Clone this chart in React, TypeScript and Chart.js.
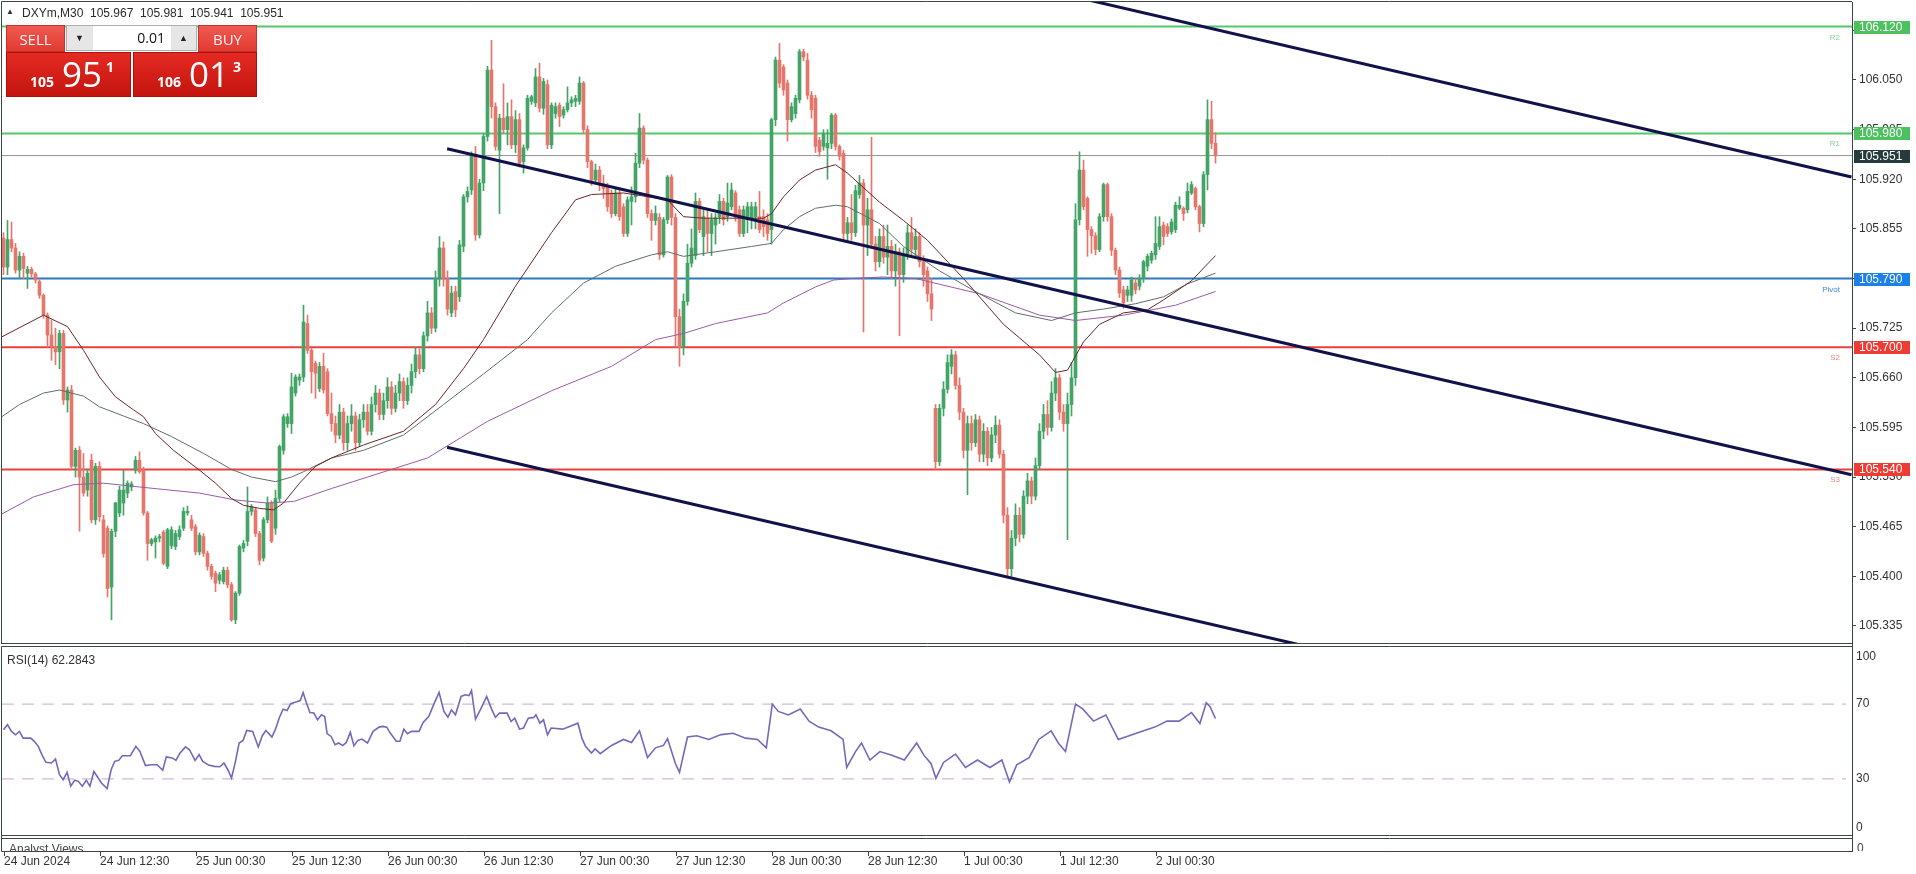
import React, { useEffect, useRef } from "react";
import { Chart, registerables } from "chart.js";

Chart.register(...registerables);

// ---------------- data ----------------
const SYMBOL = "DXYm,M30";
const LAST_BAR = [105.967, 105.981, 105.941, 105.951];
const SELL_PARTS = ["105", "95", "1"];
const BUY_PARTS = ["106", "01", "3"];
const LOT = "0.01";

// [open, high, low, close] per M30 bar
const OHLC: number[][] = [
  [105.843,105.850,105.795,105.805],[105.805,105.866,105.795,105.841],[105.841,105.864,105.825,105.830],[105.830,105.836,105.797,105.801],
  [105.801,105.825,105.790,105.819],[105.819,105.823,105.790,105.803],[105.797,105.806,105.777,105.802],[105.802,105.805,105.792,105.796],
  [105.796,105.798,105.784,105.788],[105.786,105.788,105.764,105.768],[105.768,105.770,105.738,105.742],[105.742,105.745,105.700,105.716],
  [105.716,105.735,105.683,105.701],[105.701,105.725,105.677,105.694],[105.694,105.722,105.672,105.718],[105.718,105.722,105.625,105.631],
  [105.631,105.648,105.615,105.644],[105.644,105.650,105.540,105.544],[105.544,105.568,105.530,105.565],[105.565,105.570,105.459,105.530],
  [105.530,105.561,105.505,105.509],[105.513,105.540,105.505,105.535],[105.552,105.560,105.470,105.474],[105.474,105.548,105.468,105.544],
  [105.544,105.550,105.472,105.478],[105.474,105.480,105.425,105.430],[105.463,105.466,105.373,105.384],[105.386,105.462,105.343,105.459],
  [105.459,105.497,105.452,105.496],[105.483,105.518,105.478,105.513],[105.496,105.539,105.480,105.513],[105.509,105.525,105.503,105.522],
  [105.517,105.524,105.512,105.521],[105.539,105.557,105.535,105.552],[105.552,105.563,105.535,105.537],[105.539,105.543,105.480,105.483],
  [105.483,105.485,105.421,105.443],[105.443,105.450,105.440,105.448],[105.445,105.453,105.424,105.450],[105.450,105.455,105.445,105.452],
  [105.458,105.460,105.415,105.417],[105.413,105.463,105.410,105.461],[105.440,105.465,105.436,105.461],[105.439,105.460,105.435,105.456],
  [105.452,105.466,105.448,105.461],[105.463,105.490,105.460,105.485],[105.483,105.492,105.480,105.485],[105.474,105.480,105.460,105.463],
  [105.465,105.468,105.428,105.432],[105.432,105.457,105.428,105.454],[105.452,105.456,105.426,105.430],[105.430,105.433,105.408,105.413],
  [105.413,105.416,105.396,105.400],[105.404,105.407,105.380,105.391],[105.395,105.405,105.390,105.402],[105.393,105.412,105.390,105.408],
  [105.408,105.412,105.385,105.389],[105.389,105.392,105.341,105.343],[105.343,105.380,105.338,105.378],[105.378,105.441,105.375,105.439],
  [105.437,105.447,105.432,105.443],[105.446,105.517,105.440,105.485],[105.485,105.494,105.480,105.491],[105.487,105.490,105.452,105.456],
  [105.456,105.459,105.415,105.421],[105.424,105.477,105.420,105.474],[105.474,105.504,105.470,105.496],[105.496,105.499,105.444,105.446],
  [105.463,105.513,105.455,105.502],[105.502,105.572,105.498,105.570],[105.565,105.612,105.560,105.609],[105.600,105.613,105.595,105.609],
  [105.600,105.666,105.587,105.648],[105.640,105.664,105.636,105.661],[105.657,105.665,105.650,105.661],[105.661,105.755,105.655,105.733],
  [105.731,105.742,105.692,105.696],[105.696,105.699,105.640,105.668],[105.679,105.682,105.633,105.666],[105.646,105.680,105.642,105.675],
  [105.675,105.692,105.640,105.644],[105.668,105.672,105.610,105.613],[105.613,105.640,105.590,105.600],[105.600,105.610,105.575,105.585],
  [105.585,105.625,105.580,105.615],[105.615,105.620,105.565,105.575],[105.575,105.610,105.565,105.600],[105.600,105.625,105.590,105.610],
  [105.610,105.615,105.565,105.575],[105.575,105.612,105.570,105.605],[105.605,105.625,105.595,105.615],[105.615,105.625,105.585,105.590],
  [105.590,105.635,105.585,105.625],[105.625,105.650,105.615,105.640],[105.640,105.645,105.605,105.612],[105.612,105.640,105.605,105.630],
  [105.630,105.660,105.620,105.648],[105.648,105.655,105.612,105.620],[105.620,105.650,105.615,105.640],[105.640,105.665,105.630,105.655],
  [105.655,105.660,105.620,105.630],[105.630,105.660,105.625,105.650],[105.650,105.678,105.640,105.668],[105.668,105.700,105.660,105.690],
  [105.690,105.698,105.665,105.672],[105.672,105.720,105.668,105.715],[105.715,105.760,105.708,105.745],[105.745,105.752,105.718,105.725],
  [105.725,105.800,105.720,105.790],[105.790,105.845,105.780,105.830],[105.830,105.838,105.780,105.790],[105.790,105.800,105.742,105.750],
  [105.745,105.780,105.740,105.771],[105.773,105.780,105.740,105.749],[105.766,105.840,105.760,105.834],[105.832,105.900,105.825,105.897],
  [105.897,105.910,105.890,105.904],[105.906,105.956,105.900,105.952],[105.952,105.963,105.840,105.847],[105.847,105.920,105.843,105.915],
  [105.915,105.980,105.905,105.976],[105.976,106.068,105.970,106.063],[106.063,106.102,106.000,106.015],[106.015,106.020,105.958,105.963],
  [105.958,106.005,105.875,106.000],[106.000,106.045,105.980,105.985],[105.985,106.020,105.965,106.002],[106.002,106.024,105.960,105.965],
  [105.965,106.010,105.955,105.998],[105.998,106.006,105.936,105.941],[105.943,105.965,105.928,105.961],[105.961,106.030,105.958,106.026],
  [106.022,106.030,106.018,106.028],[106.020,106.065,106.015,106.054],[106.054,106.072,106.008,106.013],[106.013,106.052,106.005,106.048],
  [106.044,106.050,105.960,105.965],[105.965,106.020,105.960,106.017],[106.006,106.020,106.000,106.015],[106.017,106.020,105.989,106.002],
  [106.004,106.015,106.000,106.011],[106.011,106.041,106.008,106.020],[106.020,106.028,106.015,106.024],[106.022,106.030,106.015,106.026],
  [106.022,106.054,106.018,106.046],[106.046,106.048,105.980,105.985],[105.985,105.990,105.935,105.943],[105.943,105.945,105.912,105.919],
  [105.919,105.940,105.915,105.932],[105.932,105.937,105.905,105.914],[105.914,105.925,105.895,105.908],[105.910,105.915,105.878,105.884],
  [105.902,105.906,105.870,105.875],[105.875,105.908,105.872,105.902],[105.902,105.906,105.866,105.871],[105.884,105.888,105.845,105.849],
  [105.849,105.897,105.845,105.893],[105.891,105.910,105.860,105.897],[105.897,105.954,105.890,105.941],[105.941,106.006,105.935,105.987],
  [105.987,105.990,105.940,105.945],[105.945,105.948,105.870,105.875],[105.875,105.880,105.840,105.866],[105.866,105.885,105.860,105.875],
  [105.870,105.875,105.815,105.821],[105.821,105.870,105.818,105.867],[105.867,105.925,105.862,105.923],[105.923,105.926,105.860,105.870],
  [105.870,105.875,105.700,105.740],[105.740,105.750,105.675,105.700],[105.700,105.770,105.690,105.760],[105.760,105.835,105.755,105.810],
  [105.810,105.855,105.805,105.830],[105.820,105.902,105.815,105.891],[105.891,105.895,105.850,105.854],[105.845,105.880,105.820,105.871],
  [105.869,105.880,105.825,105.849],[105.849,105.875,105.820,105.867],[105.860,105.875,105.835,105.869],[105.871,105.900,105.862,105.891],
  [105.891,105.895,105.860,105.867],[105.871,105.915,105.865,105.889],[105.884,105.915,105.880,105.906],[105.902,105.905,105.865,105.871],
  [105.880,105.885,105.845,105.849],[105.849,105.885,105.845,105.880],[105.867,105.890,105.850,105.884],[105.867,105.890,105.855,105.884],
  [105.871,105.890,105.855,105.884],[105.871,105.904,105.850,105.854],[105.871,105.880,105.845,105.858],[105.867,105.875,105.840,105.849],
  [105.854,106.000,105.835,105.998],[105.998,106.080,105.990,106.076],[106.076,106.098,106.040,106.046],[106.067,106.070,106.030,106.037],
  [106.046,106.050,105.970,105.998],[105.998,106.020,105.995,106.015],[106.006,106.030,106.000,106.026],[106.024,106.090,106.020,106.087],
  [106.087,106.090,106.075,106.080],[106.076,106.085,106.025,106.030],[106.030,106.035,106.000,106.011],[106.026,106.030,105.955,105.963],
  [105.971,105.975,105.950,105.956],[105.963,105.985,105.958,105.980],[105.961,105.985,105.920,105.967],[105.967,106.006,105.960,106.004],
  [106.004,106.006,105.958,105.963],[105.963,105.965,105.945,105.950],[105.954,105.958,105.840,105.849],[105.849,105.870,105.840,105.863],
  [105.863,105.900,105.840,105.850],[105.850,105.912,105.845,105.905],[105.900,105.925,105.895,105.915],[105.915,105.920,105.720,105.860],
  [105.860,105.895,105.820,105.880],[105.880,105.975,105.830,105.835],[105.835,105.845,105.800,105.812],[105.812,105.855,105.805,105.845],
  [105.845,105.860,105.810,105.818],[105.818,105.860,105.795,105.832],[105.832,105.840,105.790,105.800],[105.800,105.835,105.780,105.825],
  [105.825,105.830,105.715,105.795],[105.795,105.830,105.785,105.822],[105.822,105.860,105.815,105.850],[105.850,105.870,105.820,105.828],
  [105.828,105.855,105.820,105.845],[105.845,105.850,105.805,105.812],[105.812,105.820,105.780,105.795],[105.800,105.805,105.760,105.770],
  [105.770,105.790,105.735,105.750],[105.620,105.625,105.540,105.550],[105.550,105.625,105.545,105.620],[105.620,105.655,105.610,105.645],
  [105.645,105.690,105.640,105.680],[105.675,105.697,105.665,105.690],[105.690,105.695,105.645,105.650],[105.650,105.660,105.605,105.615],
  [105.615,105.620,105.555,105.565],[105.565,105.610,105.507,105.600],[105.600,105.610,105.565,105.575],[105.575,105.612,105.570,105.605],
  [105.605,105.610,105.550,105.560],[105.560,105.600,105.550,105.590],[105.590,105.595,105.545,105.555],[105.555,105.595,105.550,105.585],
  [105.585,105.610,105.575,105.598],[105.598,105.605,105.555,105.560],[105.560,105.565,105.470,105.480],[105.480,105.490,105.398,105.410],
  [105.410,105.460,105.400,105.450],[105.450,105.495,105.440,105.480],[105.480,105.490,105.445,105.455],[105.455,105.512,105.450,105.505],
  [105.505,105.535,105.495,105.525],[105.525,105.530,105.495,105.505],[105.505,105.555,105.500,105.545],[105.545,105.600,105.540,105.590],
  [105.590,105.625,105.580,105.612],[105.612,105.630,105.585,105.595],[105.595,105.655,105.590,105.640],[105.640,105.672,105.630,105.660],
  [105.660,105.665,105.605,105.615],[105.615,105.625,105.590,105.600],[105.600,105.640,105.448,105.625],[105.625,105.680,105.610,105.660],
  [105.660,105.888,105.650,105.867],[105.867,105.956,105.860,105.932],[105.932,105.945,105.880,105.884],[105.895,105.897,105.819,105.854],
  [105.854,105.858,105.823,105.846],[105.846,105.850,105.821,105.828],[105.828,105.875,105.825,105.871],[105.871,105.915,105.865,105.913],
  [105.913,105.915,105.865,105.871],[105.871,105.875,105.820,105.827],[105.827,105.830,105.795,105.801],[105.801,105.805,105.765,105.771],
  [105.775,105.780,105.751,105.758],[105.768,105.780,105.760,105.775],[105.768,105.792,105.760,105.788],[105.784,105.790,105.770,105.775],
  [105.780,105.795,105.775,105.790],[105.790,105.814,105.785,105.812],[105.806,105.822,105.800,105.819],[105.814,105.826,105.810,105.823],
  [105.821,105.871,105.815,105.836],[105.832,105.871,105.828,105.858],[105.860,105.864,105.834,105.845],[105.858,105.862,105.845,105.849],
  [105.851,105.868,105.848,105.864],[105.854,105.890,105.850,105.886],[105.882,105.897,105.880,105.886],[105.882,105.884,105.866,105.875],
  [105.880,105.915,105.876,105.904],[105.902,105.917,105.900,105.913],[105.908,105.910,105.880,105.884],[105.884,105.886,105.851,105.862],
  [105.862,105.930,105.858,105.926],[105.926,106.024,105.906,105.998],[105.998,106.022,105.960,105.967],[105.967,105.981,105.941,105.951],
];

// moving averages read at sample bars: [bar, price]
const MA_FAST: number[][] = [
  [-1,105.712],[10,105.742],[16,105.727],[20,105.696],[24,105.661],[28,105.635],[32.5,105.618],[35,105.609],[38,105.587],[42.5,105.565],
  [49,105.539],[53,105.522],[57,105.502],[60,105.493],[64,105.489],[67.5,105.487],[70,105.496],[74,105.522],[78,105.544],[82,105.555],
  [90,105.572],[100,105.590],[108,105.625],[115,105.672],[120,105.710],[128,105.780],[137,105.850],[143,105.893],[147,105.900],[155,105.902],
  [160,105.898],[166,105.893],[170,105.871],[175,105.869],[190,105.869],[192,105.875],[195,105.897],[199,105.919],[203,105.932],[208,105.939],
  [211,105.928],[219,105.890],[225,105.866],[231,105.840],[240,105.790],[250,105.730],[259,105.690],[263,105.667],[266,105.670],[270,105.707],
  [274,105.730],[280,105.745],[286,105.749],[290,105.762],[297,105.787],[303,105.820],
];
const MA_MID: number[][] = [
  [-1,105.607],[4,105.625],[10,105.640],[14,105.644],[20,105.636],[24,105.622],[30,105.610],[35,105.600],[42,105.583],[50,105.561],
  [57,105.540],[62,105.530],[68,105.524],[72,105.530],[75,105.537],[82,105.555],[90,105.565],[100,105.585],[110,105.625],[120,105.665],
  [131,105.710],[137,105.745],[145,105.784],[153,105.806],[162,105.821],[166,105.825],[170,105.819],[178,105.825],[187,105.832],[192,105.836],
  [195,105.854],[199,105.871],[203,105.882],[208,105.886],[211,105.884],[219,105.862],[225,105.832],[234,105.800],[244,105.770],[253,105.745],
  [262,105.735],[268,105.745],[275,105.750],[283,105.757],[290,105.766],[296,105.783],[303,105.797],
];
const MA_SLOW: number[][] = [
  [-1,105.480],[7.5,105.504],[17.5,105.520],[25,105.522],[34,105.517],[49,105.509],[58,105.500],[66,105.496],[72.5,105.498],[82,105.515],
  [91,105.530],[106,105.555],[121,105.603],[137,105.643],[152,105.675],[163,105.710],[170,105.718],[178,105.731],[191,105.745],[195,105.758],
  [203,105.779],[207.5,105.788],[212,105.790],[220,105.792],[228,105.790],[244,105.770],[259,105.742],[268,105.735],[280,105.742],[293,105.755],
  [303,105.773],
];

// RSI(14) read at sample bars: [bar, value]
const RSI_POINTS: number[][] = [
  [0,56.3],[1,59.0],[2,55.4],[3,53.6],[4,55.4],[4.9,51.8],[6.8,51.8],[7.7,50.1],[8.7,47.4],[9.6,43.0],[10.6,38.9],[12,38.5],[13,40.6],
  [14,32.3],[14.9,29.6],[15.9,33.5],[16.8,26.1],[17.8,29.3],[18.7,28.7],[19.7,26.1],[20.7,29.3],[21.6,26.1],[22.6,34.0],[23.5,31.0],
  [24.5,27.8],[25.9,24.8],[26.9,34.9],[27.8,39.4],[28.8,39.9],[29.7,42.4],[31.7,42.4],[33.1,47.4],[34.1,44.7],[35.5,37.1],[36.9,37.6],
  [38.4,37.6],[39.8,34.6],[40.7,41.7],[42.2,41.2],[43.1,39.9],[44.1,43.8],[45.5,47.1],[46.5,45.6],[47.9,39.9],[48.9,43.0],[49.8,39.4],
  [51.3,37.4],[52.7,36.7],[54.1,36.5],[55.1,38.5],[56.1,34.9],[57,30.5],[58,39.4],[58.9,49.2],[59.9,50.6],[60.8,55.9],[62.3,55.4],
  [63.7,47.1],[64.7,53.1],[65.6,55.9],[67.1,52.4],[68,56.6],[69,63.0],[69.9,67.3],[70.9,66.6],[71.8,70.2],[73.3,71.2],[74.2,71.9],
  [74.9,76.2],[75.7,70.9],[76.6,65.5],[77.6,65.2],[78.5,61.6],[79.5,64.3],[80.3,63.4],[80.9,54.2],[81.9,52.7],[82.9,48.3],[83.8,49.2],
  [84.8,47.8],[85.7,49.5],[86.7,54.9],[87.6,47.8],[88.6,50.6],[89.6,51.3],[91,49.2],[92.4,55.4],[93.9,57.7],[94.8,58.1],[95.8,57.7],
  [96.7,54.5],[98.2,50.1],[99.1,50.1],[100.1,56.6],[101,54.2],[102,55.4],[103.9,55.4],[104.9,60.2],[106.3,63.4],[107.7,70.5],[108.9,76.2],
  [110.1,66.1],[111.1,63.0],[112,66.9],[113,64.3],[114.4,74.1],[115.4,75.0],[116.4,74.6],[117,77.3],[118,62.0],[119.2,66.9],[120.8,74.1],
  [122.1,66.9],[123,62.9],[124,65.2],[125.9,65.2],[126.9,60.7],[127.8,62.5],[129,56.6],[130,57.2],[131.2,62.5],[132.6,62.9],[133.1,64.3],
  [134.1,59.8],[135,61.6],[136,53.6],[136.9,57.2],[139.8,56.6],[141.7,58.1],[143.6,59.8],[144.6,51.8],[145.5,47.4],[147,43.8],[147.9,46.0],
  [149.2,43.5],[152,47.9],[155,51.1],[157,49.5],[159,55.7],[161,41.4],[163,46.6],[165,47.9],[166,51.5],[168,38.1],[169,33.5],[171,52.4],
  [173.3,53.1],[176.3,51.1],[179.4,53.7],[182.4,54.4],[185.5,51.8],[188.5,51.1],[190.7,46.6],[192.2,70.0],[193.7,66.1],[196.2,64.2],
  [199.2,67.4],[201.4,60.9],[203.8,57.7],[206.9,55.7],[209.9,51.1],[210.8,36.1],[213,44.6],[214.5,49.2],[216.6,40.1],[219.1,44.6],
  [222.1,42.7],[225.2,40.1],[228.3,49.2],[230.1,42.7],[231.9,38.1],[233.1,30.3],[235,38.8],[238,43.3],[240.5,36.1],[243.5,40.1],
  [246.6,36.1],[249.6,40.1],[251.5,28.3],[253.3,37.5],[256.4,41.4],[258.8,51.1],[261.9,55.7],[263.7,49.2],[265.5,44.6],[268,70.0],
  [269.8,67.4],[272.5,60.9],[275.6,64.2],[278.7,51.1],[283.2,54.4],[287.8,57.7],[290.9,60.9],[293.9,60.9],[297,65.5],[299.1,59.6],
  [300.7,70.7],[301.6,68.7],[303,62.2843],
];
const RSI_LAST = 62.2843;
const RSI_LEVELS = [70, 30];
const RSI_AXIS_LABELS = [100, 70, 30, 0];

// trend lines: [[bar, price], [bar, price]]
const TREND_LINES: number[][][] = [
  [[250, 106.1805], [462, 105.923]],
  [[110.9, 105.960], [462, 105.533]],
  [[110.9, 105.569], [340, 105.291]],
];

const LEVEL_PRICES = [106.12, 105.98, 105.79, 105.7, 105.54];
const LEVEL_NAMES = ["R2", "R1", "Pivot", "S2", "S3"];
const BID = 105.951;

const PRICE_TICKS = [105.335, 105.4, 105.465, 105.53, 105.595, 105.66, 105.725, 105.79, 105.855, 105.92, 105.985, 106.05, 106.115];
const PRICE_MIN = 105.3127;
const PRICE_MAX = 106.1521;
const X_MIN = -0.375;
const X_MAX = 462.125;

const TIME_LABEL_BARS = [0, 24, 48, 72, 96, 120, 144, 168, 192, 216, 240, 264, 288];
const TIME_LABELS = ["24 Jun 2024", "24 Jun 12:30", "25 Jun 00:30", "25 Jun 12:30", "26 Jun 00:30", "26 Jun 12:30", "27 Jun 00:30",
  "27 Jun 12:30", "28 Jun 00:30", "28 Jun 12:30", "1 Jul 00:30", "1 Jul 12:30", "2 Jul 00:30"];

// ---------------- styles ----------------
const FONT = '"Liberation Sans", Arial, sans-serif';
const BULL = "#44a367";
const BEAR = "#e5766b";
const FRAME = "#3b4548";
const LEVEL_LINE_COLORS = ["#55c768", "#55c768", "#2c79bd", "#e8403a", "#e8403a"];
const LEVEL_BOX_COLORS = ["#4cc25e", "#4cc25e", "#1b80e8", "#ee3b33", "#ee3b33"];
const LEVEL_TAG_COLORS = ["#86d294", "#86d294", "#3f86cf", "#e38a84", "#e38a84"];
const BID_BOX = "#263b3e";
const MA_COLORS = ["#6b2626", "#5e6e6a", "#9a5aa6"];
const TREND_COLOR = "#12124a";
const RSI_COLOR = "#7867b8";
const RSI_LEVEL_COLOR = "#c8a9cf";

function yAxisFit(width: number) {
  return (s: any) => {
    s.width = width;
    s.paddingTop = 0;
    s.paddingBottom = 0;
    s.paddingLeft = 0;
    s.paddingRight = 0;
  };
}

const mainDecor = {
  id: "mainDecor",
  afterDraw(chart: any) {
    const { ctx, chartArea: a, scales } = chart;
    const y = scales.y;
    ctx.save();
    ctx.strokeStyle = FRAME;
    ctx.lineWidth = 1;
    ctx.beginPath();
    ctx.moveTo(1.5, 1.5); ctx.lineTo(a.right, 1.5);
    ctx.moveTo(1.5, 1.5); ctx.lineTo(1.5, 644);
    ctx.moveTo(1.5, 643.5); ctx.lineTo(a.right + 1, 643.5);
    ctx.stroke();

    ctx.textBaseline = "middle";
    LEVEL_PRICES.forEach((p, k) => {
      const py = Math.round(y.getPixelForValue(p));
      ctx.font = "8px " + FONT;
      ctx.textAlign = "right";
      ctx.fillStyle = LEVEL_TAG_COLORS[k];
      ctx.fillText(LEVEL_NAMES[k], a.right - 12, py + 11);
      ctx.fillStyle = LEVEL_BOX_COLORS[k];
      ctx.fillRect(a.right + 2, py - 6, 56, 13);
      ctx.font = "12px " + FONT;
      ctx.textAlign = "left";
      ctx.fillStyle = "#ffffff";
      ctx.fillText(p.toFixed(3), a.right + 7, py + 1);
    });
    const by = Math.round(y.getPixelForValue(BID));
    ctx.fillStyle = BID_BOX;
    ctx.fillRect(a.right + 2, by - 6, 56, 13);
    ctx.fillStyle = "#ffffff";
    ctx.font = "12px " + FONT;
    ctx.textAlign = "left";
    ctx.fillText(BID.toFixed(3), a.right + 7, by + 1);
    ctx.restore();
  },
};

const rsiDecor = {
  id: "rsiDecor",
  afterDraw(chart: any) {
    const { ctx, chartArea: a, scales } = chart;
    const x = scales.x;
    const y = scales.y;
    ctx.save();
    ctx.strokeStyle = FRAME;
    ctx.lineWidth = 1;
    ctx.beginPath();
    ctx.moveTo(1.5, 2.5); ctx.lineTo(a.right, 2.5);
    ctx.moveTo(1.5, 2.5); ctx.lineTo(1.5, 207.5);
    ctx.moveTo(1.5, 191.5); ctx.lineTo(a.right, 191.5);
    ctx.moveTo(1.5, 194.5); ctx.lineTo(a.right, 194.5);
    ctx.moveTo(1.5, 207.5); ctx.lineTo(a.right + 1, 207.5);
    ctx.moveTo(a.right + 0.5, 0); ctx.lineTo(a.right + 0.5, 208);
    ctx.stroke();

    ctx.fillStyle = "#333";
    ctx.font = "12px " + FONT;
    ctx.textBaseline = "middle";
    ctx.textAlign = "left";
    RSI_AXIS_LABELS.forEach((v) => {
      let py = y.getPixelForValue(v);
      py = Math.min(Math.max(py, a.top + 9), a.bottom - 7);
      ctx.fillText(String(v), a.right + 4, py);
    });
    ctx.fillText("RSI(14) " + RSI_LAST.toFixed(4), 7, a.top + 13);

    ctx.save();
    ctx.beginPath();
    ctx.rect(2, 195, a.right + 60, 12);
    ctx.clip();
    ctx.fillStyle = "#444";
    ctx.fillText("Analyst Views", 9, 205.5);
    ctx.fillText("0", a.right + 5, 204.5);
    ctx.restore();

    ctx.strokeStyle = FRAME;
    ctx.beginPath();
    TIME_LABEL_BARS.forEach((b) => {
      const px = Math.round(x.getPixelForValue(b)) + 0.5;
      ctx.moveTo(px, 208); ctx.lineTo(px, 212);
    });
    ctx.stroke();
    ctx.fillStyle = "#333";
    TIME_LABEL_BARS.forEach((b, k) => {
      const px = Math.round(x.getPixelForValue(b));
      ctx.fillText(TIME_LABELS[k], px, 218);
    });
    ctx.restore();
  },
};

function lineSet(points: number[][], color: string, width: number, order: number, dash?: number[]) {
  return {
    type: "line",
    data: points.map((p) => ({ x: p[0], y: p[1] })),
    borderColor: color,
    borderWidth: width,
    borderDash: dash || [],
    pointRadius: 0,
    tension: 0,
    fill: false,
    order,
  };
}

function mainConfig(): any {
  const colors = OHLC.map((c) => (c[3] >= c[0] ? BULL : BEAR));
  const datasets: any[] = [];
  LEVEL_PRICES.forEach((p, k) => {
    datasets.push(lineSet([[X_MIN, p], [X_MAX, p]], LEVEL_LINE_COLORS[k], 2, 20));
  });
  datasets.push(lineSet([[X_MIN, BID], [X_MAX, BID]], "#929292", 1, 19));
  datasets.push({
    type: "bar",
    data: OHLC.map((c, i) => ({ x: i, y: [c[2], c[1]] })),
    backgroundColor: colors,
    barThickness: 1,
    grouped: false,
    minBarLength: 1,
    order: 10,
  });
  datasets.push({
    type: "bar",
    data: OHLC.map((c, i) => ({ x: i, y: [c[0], c[3]] })),
    backgroundColor: colors,
    barThickness: 3,
    grouped: false,
    minBarLength: 1,
    order: 9,
  });
  datasets.push(lineSet(MA_SLOW, MA_COLORS[2], 1, 5));
  datasets.push(lineSet(MA_MID, MA_COLORS[1], 1, 4));
  datasets.push(lineSet(MA_FAST, MA_COLORS[0], 1, 3));
  TREND_LINES.forEach((t) => datasets.push(lineSet(t, TREND_COLOR, 3, 1)));

  return {
    type: "bar",
    data: { datasets },
    options: {
      animation: false,
      responsive: false,
      devicePixelRatio: 1,
      events: [],
      layout: { padding: { left: 2, top: 2, bottom: 1, right: 0 } },
      plugins: { legend: { display: false }, tooltip: { enabled: false } },
      scales: {
        x: { type: "linear", min: X_MIN, max: X_MAX, display: false, offset: false, grid: { offset: false } },
        y: {
          type: "linear",
          position: "right",
          min: PRICE_MIN,
          max: PRICE_MAX,
          afterBuildTicks: (s: any) => { s.ticks = PRICE_TICKS.map((v) => ({ value: v })); },
          afterFit: yAxisFit(64),
          ticks: {
            autoSkip: false,
            padding: 3,
            color: "#333",
            font: { family: FONT, size: 12 },
            callback: (v: any) => Number(v).toFixed(3),
          },
          grid: { display: true, drawOnChartArea: false, drawTicks: true, tickLength: 4, color: FRAME },
          border: { display: true, color: FRAME, width: 1 },
        },
      },
    },
    plugins: [mainDecor],
  };
}

function rsiConfig(): any {
  const datasets: any[] = [];
  RSI_LEVELS.forEach((v) => datasets.push(lineSet([[X_MIN, v], [X_MAX - 1.5, v]], RSI_LEVEL_COLOR, 1, 5, [12, 8])));
  datasets.push(lineSet(RSI_POINTS, RSI_COLOR, 1.6, 1));
  return {
    type: "line",
    data: { datasets },
    options: {
      animation: false,
      responsive: false,
      devicePixelRatio: 1,
      events: [],
      layout: { padding: { left: 2, top: 4, bottom: 39, right: 0 } },
      plugins: { legend: { display: false }, tooltip: { enabled: false } },
      scales: {
        x: { type: "linear", min: X_MIN, max: X_MAX, display: false, offset: false },
        y: {
          type: "linear",
          position: "right",
          min: 0,
          max: 100,
          afterFit: yAxisFit(64),
          ticks: { display: false },
          grid: { display: false },
          border: { display: false },
        },
      },
    },
    plugins: [rsiDecor],
  };
}

const topBtn: any = {
  position: "absolute",
  top: 25,
  height: 27,
  width: 59,
  boxSizing: "border-box",
  background: "linear-gradient(#ef5a52, #e23a31)",
  border: "1px solid #c8322a",
  color: "#fff4f2",
  font: '15px "Open Sans", sans-serif',
  display: "flex",
  alignItems: "center",
  justifyContent: "center",
};

const bigBtn: any = {
  position: "absolute",
  top: 52,
  height: 45,
  boxSizing: "border-box",
  background: "linear-gradient(#e42a22, #c3150f)",
  border: "1px solid #a8110c",
  color: "#ffffff",
};

function PriceButton({ left, width, parts }: { left: number; width: number; parts: string[] }) {
  return (
    <div style={{ ...bigBtn, left, width }}>
      <span style={{ position: "absolute", left: 23, top: 22, font: 'bold 14px "Open Sans", sans-serif', lineHeight: "14px" }}>{parts[0]}</span>
      <span style={{ position: "absolute", left: 55, top: 3, font: '35px "Open Sans", sans-serif', lineHeight: "35px" }}>{parts[1]}</span>
      <span style={{ position: "absolute", left: 99, top: 7, font: 'bold 14px "Open Sans", sans-serif', lineHeight: "14px" }}>{parts[2]}</span>
    </div>
  );
}

export default function App() {
  const mainRef = useRef<HTMLCanvasElement>(null);
  const rsiRef = useRef<HTMLCanvasElement>(null);

  useEffect(() => {
    document.body.style.margin = "0";
    const c1 = new Chart(mainRef.current as HTMLCanvasElement, mainConfig());
    const c2 = new Chart(rsiRef.current as HTMLCanvasElement, rsiConfig());
    return () => {
      c1.destroy();
      c2.destroy();
    };
  }, []);

  const header = SYMBOL + "  " + LAST_BAR.map((v) => v.toFixed(3)).join("  ");

  return (
    <div style={{ position: "fixed", left: 0, top: 0, width: 1916, height: 874, background: "#ffffff", overflow: "hidden" }}>
      <canvas ref={mainRef} width={1916} height={644} style={{ position: "absolute", left: 0, top: 0, width: 1916, height: 644 }} />
      <canvas ref={rsiRef} width={1916} height={230} style={{ position: "absolute", left: 0, top: 644, width: 1916, height: 230 }} />

      <div style={{ position: "absolute", left: 6, top: 7, font: "8px " + FONT, color: "#333", lineHeight: "10px" }}>▲</div>
      <div style={{ position: "absolute", left: 22, top: 6, font: "12px " + FONT, color: "#2a2a2a", lineHeight: "14px", whiteSpace: "pre" }}>{header}</div>

      <div style={{ ...topBtn, left: 6 }}>SELL</div>
      <div style={{ ...topBtn, left: 198 }}>BUY</div>
      <div style={{ position: "absolute", left: 66, top: 25, width: 131, height: 26, boxSizing: "border-box", background: "#e6e6e6", border: "1px solid #b0b0b0" }}>
        <div style={{ position: "absolute", left: 0, top: 0, width: 25, height: 24, display: "flex", alignItems: "center", justifyContent: "center", font: "9px " + FONT, color: "#222" }}>▼</div>
        <div style={{ position: "absolute", left: 26, top: 0, width: 78, height: 24, background: "#ffffff", boxSizing: "border-box", textAlign: "right", paddingRight: 6, font: '14px "Open Sans", sans-serif', lineHeight: "24px", color: "#111" }}>{LOT}</div>
        <div style={{ position: "absolute", left: 104, top: 0, width: 25, height: 24, display: "flex", alignItems: "center", justifyContent: "center", font: "9px " + FONT, color: "#222" }}>▲</div>
      </div>
      <PriceButton left={6} width={125} parts={SELL_PARTS} />
      <PriceButton left={133} width={124} parts={BUY_PARTS} />
    </div>
  );
}
